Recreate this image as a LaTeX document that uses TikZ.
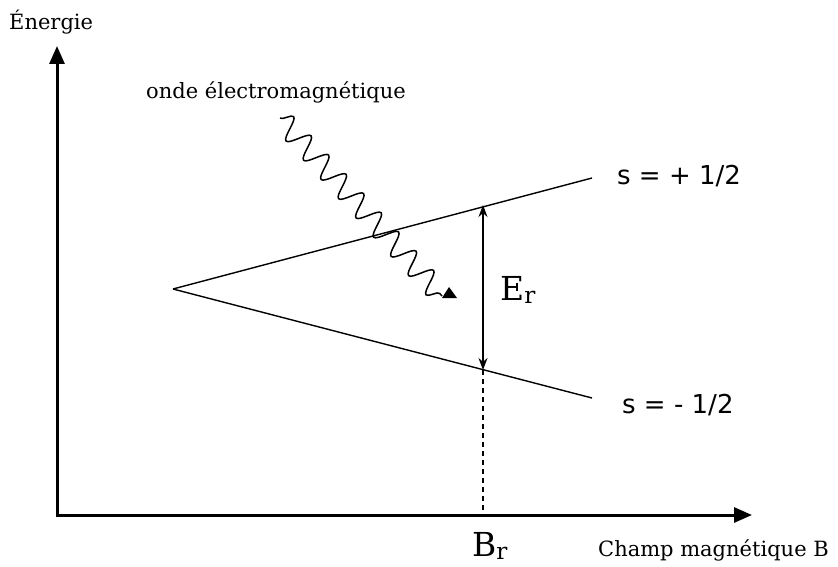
\documentclass[tikz,border=0pt]{standalone}
\usepackage{fontspec}
\setmainfont{DejaVu Serif}
\newfontfamily\sansf{DejaVu Sans}
\usetikzlibrary{arrows.meta,decorations.pathmorphing}
\begin{document}
\begin{tikzpicture}[x=1pt,y=-1pt,
  axis/.style={line width=3pt,-{Triangle[length=18pt,width=15pt]}},
  level/.style={line width=1.4pt},
  lbl/.style={inner sep=0pt,anchor=base west},
  wave/.style={line width=1.5pt,decorate,decoration={snake,amplitude=11pt,segment length=26pt,post length=2pt}},
  gap/.style={line width=1.3pt,{Stealth[length=12pt,width=9pt]}-{Stealth[length=12pt,width=9pt]}}]
\useasboundingbox (0,0) rectangle (838,567);
\coordinate (O) at (57,515);
\coordinate (Ytop) at (57,46);
\coordinate (Xend) at (752,515);
\draw[axis] (O) -- (Ytop);
\draw[axis] ([xshift=-1.5pt]O) -- (Xend);
\coordinate (V) at (173,289);
\coordinate (U) at (592,178);
\coordinate (L) at (592,398);
\draw[level] (V) -- (U);
\draw[level] (V) -- (L);
\coordinate (Eu) at (483,205);
\coordinate (El) at (483,370);
\coordinate (Bx) at (483,515);
\draw[gap] (Eu) -- (El);
\draw[line width=1.3pt,dash pattern=on 5pt off 4pt] (El) -- (Bx);
\coordinate (W0) at (280,118);
\coordinate (W1) at (442,296);
\draw[wave] (W0) -- (W1);
\coordinate (T) at (449,287);
\fill (T) -- ([shift={(-7,11)}]T) -- ([shift={(8,11)}]T) -- cycle;
\node[lbl,font=\fontsize{21}{24}\selectfont] (en) at (9,30) {Énergie};
\node[lbl,font=\fontsize{21}{24}\selectfont] (onde) at (146,99) {onde électromagnétique};
\node[lbl,font=\fontsize{21}{24}\selectfont] (champ) at (598,556) {Champ magnétique B};
\node[lbl,font=\sansf\fontsize{26}{28}\selectfont] (sp) at (617,185) {s = + 1/2};
\node[lbl,font=\sansf\fontsize{26}{28}\selectfont] (sm) at (622,413) {s = - 1/2};
\node[lbl,font=\fontsize{33}{36}\selectfont] (Er) at (500,300) {E\textsubscript{r}};
\node[lbl,font=\fontsize{33}{36}\selectfont] (Br) at (472,556) {B\textsubscript{r}};
\end{tikzpicture}
\end{document}
